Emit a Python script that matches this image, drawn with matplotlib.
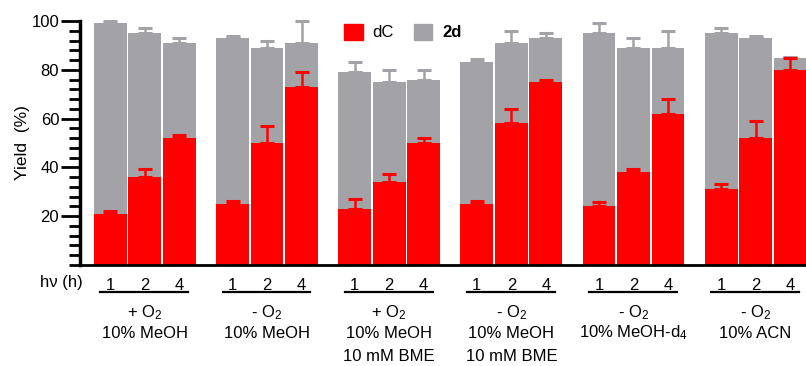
import matplotlib.pyplot as plt
from matplotlib.patches import Patch
from matplotlib.ticker import MultipleLocator
from matplotlib.transforms import blended_transform_factory

plt.rcParams['font.family'] = ['Liberation Sans', 'DejaVu Sans']
plt.rcParams['mathtext.fontset'] = 'custom'
plt.rcParams['mathtext.rm'] = 'Liberation Sans'

# yields (percent)
hours = ['1', '2', '4']
dc = [[21, 36, 52], [25, 50, 73], [23, 34, 50], [25, 58, 75], [24, 38, 62], [31, 52, 80]]
total = [[99, 95, 91], [93, 89, 91], [79, 75, 76], [83, 91, 93], [95, 89, 89], [95, 93, 85]]
dc_err = [[1.3, 3.2, 1.3], [1.2, 7, 6], [4, 3.2, 2.2], [1.2, 6, 1], [2, 1.2, 6], [2, 7, 5]]
total_err = [[1.1, 2, 2.2], [1, 3, 9], [4, 5, 4], [1.3, 5, 2], [4, 4, 7], [2, 1, 0.4]]
conditions = [
    ['+ $\\mathregular{O_2}$', '10% MeOH'],
    ['- $\\mathregular{O_2}$', '10% MeOH'],
    ['+ $\\mathregular{O_2}$', '10% MeOH', '10 mM BME'],
    ['- $\\mathregular{O_2}$', '10% MeOH', '10 mM BME'],
    ['- $\\mathregular{O_2}$', '10% MeOH-$\\mathregular{d_4}$'],
    ['- $\\mathregular{O_2}$', '10% ACN'],
]

red = '#ff0000'
gray = '#a3a2a7'
group_step = 3.54
width = 0.95

fig = plt.figure(figsize=(8.06, 3.66), dpi=100)
ax = fig.add_axes([80 / 806, 101 / 366, 726 / 806, 244 / 366])

xs, xl = [], []
for g in range(len(dc)):
    x = [g * group_step + j for j in range(3)]
    d2 = [t - d for t, d in zip(total[g], dc[g])]
    ax.bar(x, dc[g], width, color=red, zorder=2)
    ax.bar(x, d2, width, bottom=dc[g], color=gray, zorder=2)
    ax.errorbar(x, total[g], yerr=[[0] * 3, total_err[g]], fmt='none', ecolor=gray,
                elinewidth=1.8, capsize=4.7, capthick=2.2, zorder=3, clip_on=False)
    ax.errorbar(x, dc[g], yerr=[[0] * 3, dc_err[g]], fmt='none', ecolor=red,
                elinewidth=1.8, capsize=4.7, capthick=2.2, zorder=3, clip_on=False)
    xs += x
    xl += hours

ax.set_xlim(-0.88, 20.16)
ax.set_ylim(0, 100)
ax.set_xticks(xs)
ax.set_xticklabels(xl, fontsize=12)
ax.tick_params(axis='x', length=0, pad=9)
ax.set_yticks([20, 40, 60, 80, 100])
ax.yaxis.set_minor_locator(MultipleLocator(4))
ax.tick_params(axis='y', which='major', length=14, width=2, labelsize=12, pad=1)
ax.tick_params(axis='y', which='minor', length=8, width=2)
ax.set_ylabel('Yield  (%)', fontsize=12.5, labelpad=1)

for s in ['top', 'right']:
    ax.spines[s].set_visible(False)
ax.spines['left'].set_linewidth(2.5)
ax.spines['bottom'].set_linewidth(2)

trans = blended_transform_factory(ax.transData, ax.transAxes)
ax.text(-0.8, -0.07, 'h\u03bd (h)', transform=trans, ha='right', va='center', fontsize=12)
line_y = [-0.197, -0.279, -0.377]
for g, lines in enumerate(conditions):
    c = g * group_step + 1
    ax.plot([c - 1.29, c + 1.26], [-0.112, -0.112], color='black', lw=1.6,
            transform=trans, clip_on=False)
    for k, txt in enumerate(lines):
        ax.text(c, line_y[k], txt, transform=trans, ha='center', va='center', fontsize=12)

handles = [Patch(color=red, label='dC'), Patch(color=gray, label='2d')]
leg = ax.legend(handles=handles, loc='center left', bbox_to_anchor=(0.355, 0.955),
                ncol=2, frameon=False, fontsize=12, handlelength=1.1, handleheight=1.1,
                columnspacing=1.2, handletextpad=0.6, borderaxespad=0)
leg.get_texts()[1].set_fontweight('bold')

fig.savefig('out.png', dpi=100)
